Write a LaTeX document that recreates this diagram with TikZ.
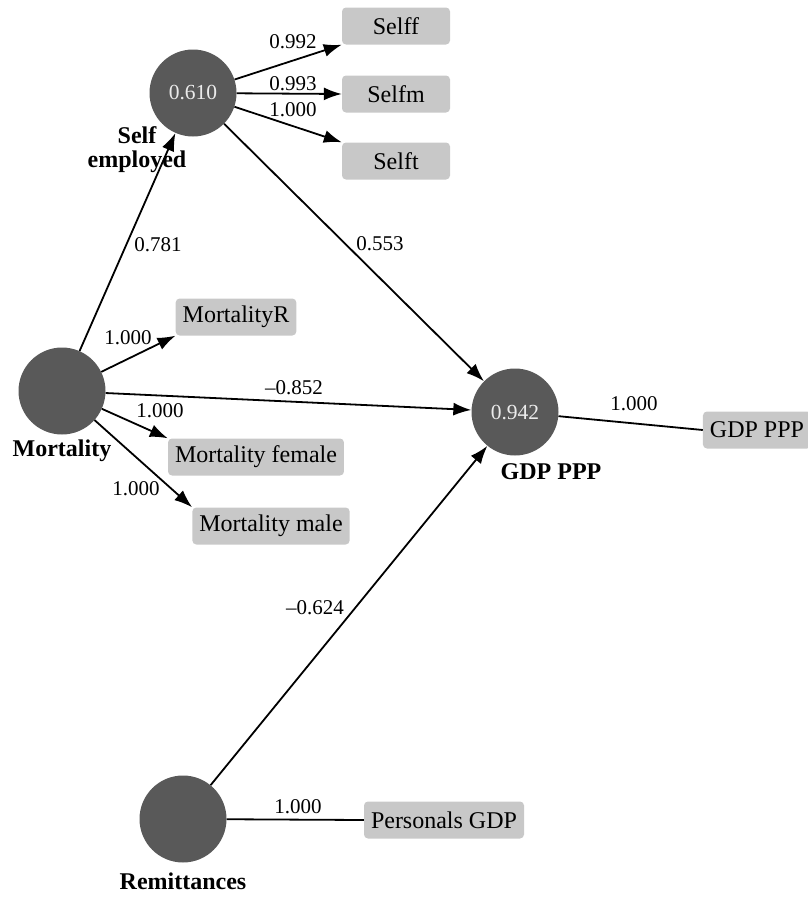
\documentclass[tikz,border=0pt]{standalone}
\usepackage{fontspec}
\setmainfont{Liberation Serif}[Ligatures=TeX]
\newfontfamily\tnr{Liberation Serif}
\usetikzlibrary{arrows.meta}
\definecolor{lv}{HTML}{595959}
\definecolor{mv}{HTML}{C8C8C8}
\begin{document}
\begin{tikzpicture}[x=1pt,y=-1pt,
  latent/.style={circle,fill=lv,minimum size=87pt,inner sep=0pt,text=white!92!black,font=\tnr\fontsize{21.5}{24}\selectfont},
  manifest/.style={rectangle,rounded corners=4pt,fill=mv,minimum height=37pt,inner xsep=7pt,font=\tnr\fontsize{24}{27}\selectfont},
  lvname/.style={font=\tnr\fontsize{24}{28}\selectfont\bfseries,align=center},
  wlabel/.style={font=\tnr\fontsize{21}{23}\selectfont,inner sep=1pt},
  path/.style={line width=1.8pt,-{Latex[length=18pt,width=13pt]}},
  plain/.style={line width=1.8pt}]
\useasboundingbox (0,0) rectangle (807,897);
% latent variables
\node[latent] (self) at (193,93) {0.610};
\node[latent] (mort) at (62,391) {};
\node[latent] (gdp) at (515,412) {0.942};
\node[latent] (rem) at (183,819) {};
% latent names
\node[lvname] (selfname) at (137,150) {Self\\[-4pt]employed};
\node[lvname] (mortname) at (62,451) {Mortality};
\node[lvname] (gdpname) at (551,472) {GDP PPP};
\node[lvname] (remname) at (183,881) {Remittances};
% manifest variables
\node[manifest,minimum width=108pt] (selff) at (396,26) {Selff};
\node[manifest,minimum width=108pt] (selfm) at (396,94) {Selfm};
\node[manifest,minimum width=108pt] (selft) at (396,161) {Selft};
\node[manifest] (mortr) at (236,317) {MortalityR};
\node[manifest] (mortf) at (256,457) {Mortality female};
\node[manifest] (mortm) at (271,526) {Mortality male};
\node[manifest] (gdpr) at (757,430) {GDP PPP};
\node[manifest] (pgdp) at (444,820) {Personals GDP};
% connectors
\draw[path] (self) -- (selff.south west);
\draw[path] (self) -- (selfm.west);
\draw[path] (self) -- (selft.north west);
\draw[path] (mort) -- (self);
\draw[path] (self) -- (gdp);
\draw[path] (mort) -- (mortr.south west);
\draw[path] (mort) -- (gdp);
\draw[path] (mort) -- (mortf.north west);
\draw[path] (mort) -- (mortm.north west);
\draw[plain] (gdp) -- (gdpr.west);
\draw[path] (rem) -- (gdp);
\draw[plain] (rem) -- (pgdp.west);
% weights
\node[wlabel] (w1) at (293,42) {0.992};
\node[wlabel] (w2) at (293,84) {0.993};
\node[wlabel] (w3) at (293,110) {1.000};
\node[wlabel] (w4) at (158,245) {0.781};
\node[wlabel] (w5) at (380,244) {0.553};
\node[wlabel] (w6) at (128,338) {1.000};
\node[wlabel] (w7) at (294,388) {–0.852};
\node[wlabel] (w8) at (160,411) {1.000};
\node[wlabel] (w9) at (136,489) {1.000};
\node[wlabel] (w10) at (634,404) {1.000};
\node[wlabel] (w11) at (315,608) {–0.624};
\node[wlabel] (w12) at (298,807) {1.000};
\end{tikzpicture}
\end{document}
